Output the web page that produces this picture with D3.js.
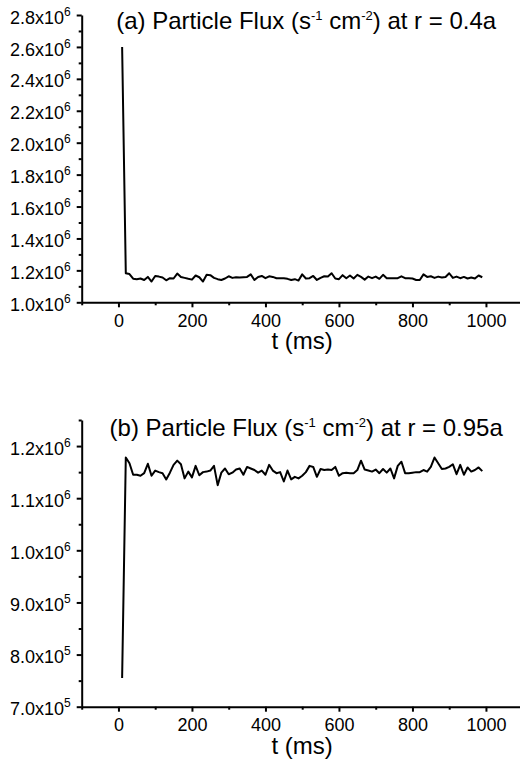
<!DOCTYPE html>
<html>
<head>
<meta charset="utf-8">
<script src="https://cdn.jsdelivr.net/npm/d3@7"></script>
<style>
  body { margin: 0; background: #fff; }
  svg { display: block; font-family: 'Liberation Sans', Arial, sans-serif; }
  .axis path, .axis line { stroke: #000; stroke-width: 2; }
  .axis text { fill: #000; font-size: 18px; font-family: 'Liberation Sans', Arial, sans-serif; }
</style>
</head>
<body>
<div id="chart"></div>
<script>
// time samples (ms)
var times = [10, 20, 30, 40, 50, 60, 70, 80, 90, 100,
  110, 120, 130, 140, 150, 160, 170, 180, 190, 200,
  210, 220, 230, 240, 250, 260, 270, 280, 290, 300,
  310, 320, 330, 340, 350, 360, 370, 380, 390, 400,
  410, 420, 430, 440, 450, 460, 470, 480, 490, 500,
  510, 520, 530, 540, 550, 560, 570, 580, 590, 600,
  610, 620, 630, 640, 650, 660, 670, 680, 690, 700,
  710, 720, 730, 740, 750, 760, 770, 780, 790, 800,
  810, 820, 830, 840, 850, 860, 870, 880, 890, 900,
  910, 920, 930, 940, 950, 960, 970, 980, 990];

// (a) flux at r = 0.4a, in units of 1e6
var fluxA = [2.600, 1.182, 1.177, 1.148, 1.145, 1.149, 1.140, 1.159, 1.130, 1.165,
  1.161, 1.155, 1.138, 1.151, 1.149, 1.180, 1.159, 1.153, 1.147, 1.142,
  1.168, 1.157, 1.130, 1.172, 1.170, 1.153, 1.145, 1.140, 1.149, 1.163,
  1.153, 1.157, 1.155, 1.157, 1.159, 1.175, 1.140, 1.159, 1.165, 1.151,
  1.163, 1.159, 1.151, 1.151, 1.151, 1.147, 1.140, 1.145, 1.136, 1.175,
  1.149, 1.151, 1.165, 1.140, 1.153, 1.163, 1.161, 1.182, 1.149, 1.145,
  1.170, 1.151, 1.168, 1.149, 1.172, 1.159, 1.142, 1.161, 1.151, 1.161,
  1.147, 1.172, 1.151, 1.151, 1.151, 1.151, 1.163, 1.151, 1.151, 1.149,
  1.140, 1.140, 1.175, 1.159, 1.163, 1.153, 1.161, 1.155, 1.159, 1.182,
  1.153, 1.161, 1.151, 1.159, 1.149, 1.155, 1.149, 1.168, 1.157];

// (b) flux at r = 0.95a, in units of 1e6
var fluxB = [0.755, 1.178, 1.167, 1.145, 1.145, 1.143, 1.148, 1.166, 1.143, 1.153,
  1.150, 1.148, 1.136, 1.149, 1.164, 1.172, 1.165, 1.138, 1.151, 1.140,
  1.162, 1.144, 1.150, 1.151, 1.153, 1.162, 1.125, 1.149, 1.157, 1.146,
  1.149, 1.155, 1.157, 1.145, 1.160, 1.157, 1.154, 1.149, 1.153, 1.145,
  1.164, 1.153, 1.148, 1.150, 1.132, 1.153, 1.136, 1.141, 1.138, 1.143,
  1.150, 1.162, 1.160, 1.141, 1.156, 1.154, 1.155, 1.154, 1.160, 1.143,
  1.148, 1.149, 1.148, 1.148, 1.154, 1.172, 1.155, 1.153, 1.151, 1.155,
  1.148, 1.156, 1.149, 1.157, 1.138, 1.162, 1.170, 1.148, 1.148, 1.149,
  1.150, 1.150, 1.154, 1.151, 1.160, 1.178, 1.167, 1.156, 1.157, 1.160,
  1.165, 1.146, 1.164, 1.145, 1.159, 1.151, 1.154, 1.159, 1.152];

var xTicks = [0, 200, 400, 600, 800, 1000];
var xMinor = [-100, 100, 300, 500, 700, 900, 1100];

var yTicksA = [1.0, 1.2, 1.4, 1.6, 1.8, 2.0, 2.2, 2.4, 2.6, 2.8];
var yMinorA = [1.1, 1.3, 1.5, 1.7, 1.9, 2.1, 2.3, 2.5, 2.7];
var yTicksB = [0.7, 0.8, 0.9, 1.0, 1.1, 1.2];
var yMinorB = [0.75, 0.85, 0.95, 1.05, 1.15, 1.25];

var svg = d3.select('#chart').append('svg')
    .attr('width', 520)
    .attr('height', 769);

var xScale = d3.scaleLinear()
    .domain([-100, 1100])
    .range([81.7, 522.7]);

// mantissa x 10^exp, e.g. 9.0x10^5
function sciLabel(v) {
  var exp = v < 1 - 1e-9 ? 5 : 6;
  var m = v * Math.pow(10, 6 - exp);
  return {m: m.toFixed(1) + 'x10', e: String(exp)};
}

function panel(opts) {
  var y = d3.scaleLinear()
      .domain(opts.domain)
      .range([opts.bottom, opts.top]);

  // minor ticks first
  svg.append('g')
      .attr('class', 'axis')
      .attr('transform', 'translate(0,' + opts.bottom + ')')
      .call(d3.axisBottom(xScale).tickValues(xMinor).tickSize(3).tickFormat(''))
      .select('.domain').remove();

  svg.append('g')
      .attr('class', 'axis')
      .attr('transform', 'translate(' + xScale.range()[0] + ',0)')
      .call(d3.axisLeft(y).tickValues(opts.minor).tickSize(3).tickFormat(''))
      .select('.domain').remove();

  svg.append('g')
      .attr('class', 'axis')
      .attr('transform', 'translate(0,' + opts.bottom + ')')
      .call(d3.axisBottom(xScale).tickValues(xTicks).tickFormat(d3.format('d'))
        .tickSize(5).tickSizeOuter(0).tickPadding(7));

  var ya = svg.append('g')
      .attr('class', 'axis')
      .attr('transform', 'translate(' + xScale.range()[0] + ',0)')
      .call(d3.axisLeft(y).tickValues(opts.ticks).tickSize(5).tickSizeOuter(0).tickPadding(6));

  ya.selectAll('.tick text').each(function(d) {
    var t = d3.select(this).text(null).attr('dy', '0.45em');
    var lab = sciLabel(d);
    t.append('tspan').text(lab.m);
    t.append('tspan').attr('dy', -8).attr('font-size', 12).text(lab.e);
  });

  var line = d3.line()
      .x(function(d, i) { return xScale(times[i]); })
      .y(function(d) { return y(d); });

  svg.append('path')
      .datum(opts.values)
      .attr('fill', 'none')
      .attr('stroke', '#000')
      .attr('stroke-width', 2)
      .attr('stroke-linejoin', 'round')
      .attr('d', line);

  // title with superscript units
  var title = svg.append('text')
      .attr('x', xScale(500) + 4)
      .attr('y', opts.titleY)
      .attr('text-anchor', 'middle')
      .attr('font-size', 24)
      .attr('fill', '#000');
  title.append('tspan').text(opts.label + ' Particle Flux (s');
  title.append('tspan').attr('dy', -9).attr('font-size', 13).text('-1');
  title.append('tspan').attr('dy', 9).text(' cm');
  title.append('tspan').attr('dy', -9).attr('font-size', 13).text('-2');
  title.append('tspan').attr('dy', 9).text(') at r = ' + opts.r);

  svg.append('text')
      .attr('x', xScale(500))
      .attr('y', opts.bottom + 47)
      .attr('text-anchor', 'middle')
      .attr('font-size', 24)
      .attr('fill', '#000')
      .text('t (ms)');
}

panel({label: '(a)', r: '0.4a', values: fluxA, domain: [1.0, 2.8],
  ticks: yTicksA, minor: yMinorA, top: 15, bottom: 302.3, titleY: 29});
panel({label: '(b)', r: '0.95a', values: fluxB, domain: [0.7, 1.25],
  ticks: yTicksB, minor: yMinorB, top: 420, bottom: 706.7, titleY: 436});
</script>
</body>
</html>
